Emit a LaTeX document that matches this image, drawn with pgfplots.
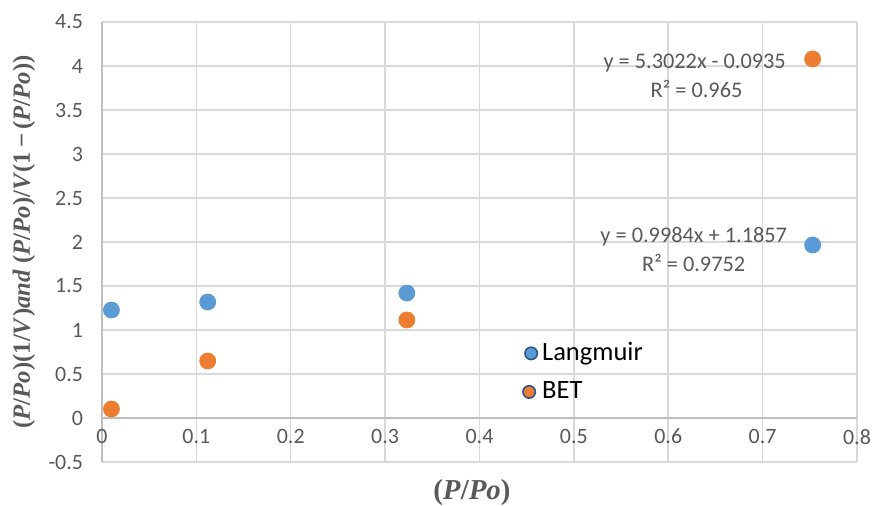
\documentclass[border=0pt]{standalone}
\usepackage{pgfplots}
\pgfplotsset{compat=1.18}
\usepackage{fontspec}
\setmainfont{Carlito}
\newfontfamily\lserif{Liberation Serif}
\definecolor{lblue}{RGB}{91,155,213}
\definecolor{lorange}{RGB}{237,125,49}
\definecolor{gridc}{RGB}{217,217,217}
\definecolor{axisc}{RGB}{191,191,191}
\definecolor{txtc}{RGB}{89,89,89}
\definecolor{edgec}{RGB}{49,84,140}
\newcommand{\vi}[1]{\textit{#1}}
\begin{document}
\begin{tikzpicture}
\begin{axis}[
  scale only axis,
  width=377.5bp, height=220bp,
  xmin=0, xmax=0.8, ymin=-0.5, ymax=4.5,
  xtick={0,0.1,...,0.8},
  ytick={-0.5,0,...,4.5},
  axis x line=middle, axis y line=left,
  hide obscured x ticks=false,
  axis line style={-, draw=axisc, line width=0.75bp},
  major tick length=0pt,
  grid=major, grid style={draw=gridc, line width=0.75bp},
  /pgf/number format/assume math mode=true,
  /pgf/number format/fixed,
  ticklabel style={font=\fontsize{11}{13}\selectfont, text=txtc},
  xticklabel style={anchor=north, yshift=-2bp},
  yticklabel style={anchor=east, xshift=-6bp},
  every axis y label/.style={at={(axis description cs:-0.1033,0.5)}, rotate=90, anchor=center,
    font=\fontsize{12.4}{14}\selectfont\lserif\bfseries, text=txtc},
  every axis x label/.style={at={(axis description cs:0.49,-0.0705)}, anchor=center,
    font=\fontsize{14.5}{16}\selectfont\lserif\bfseries, text=txtc},
  ylabel={(\vi{P}/\vi{Po})(1/\vi{V})\vi{and} (\vi{P}/\vi{Po})/\vi{V}(1\,−\,(\vi{P}/\vi{Po}))},
  xlabel={(\vi{P}/\vi{Po})},
  legend style={at={(axis description cs:0.556,0.281)}, anchor=north west,
    draw=none, fill=none, font=\fontsize{13.3}{15}\selectfont, text=black,
    row sep=5bp, inner sep=0pt},
  legend cell align=left,
  clip=false,
]
\addplot[only marks, mark=*, mark size=4bp, mark options={fill=lblue, draw=lblue},
  legend image code/.code={\draw[fill=lblue, draw=edgec, line width=0.8bp] (0.35em,0) circle (3.1bp);}]
  coordinates {(0.01,1.227)(0.112,1.318)(0.323,1.42)(0.753,1.966)};
\addlegendentry{Langmuir}
\addplot[only marks, mark=*, mark size=4bp, mark options={fill=lorange, draw=lorange},
  legend image code/.code={\draw[fill=lorange, draw=edgec, line width=0.8bp] (0.25em,0) circle (3.1bp);}]
  coordinates {(0.01,0.102)(0.112,0.648)(0.323,1.114)(0.753,4.08)};
\addlegendentry{BET}
\node[text=txtc, font=\fontsize{11.2}{13}\selectfont] at (axis cs:0.628,4.034) {y = 5.3022x - 0.0935};
\node[text=txtc, font=\fontsize{11.2}{13}\selectfont] at (axis cs:0.630,3.739) {R² = 0.965};
\node[text=txtc, font=\fontsize{11.2}{13}\selectfont] at (axis cs:0.627,2.057) {y = 0.9984x + 1.1857};
\node[text=txtc, font=\fontsize{11.2}{13}\selectfont] at (axis cs:0.627,1.761) {R² = 0.9752};
\end{axis}
\pgfresetboundingbox
\path[use as bounding box] (-51bp,-22bp) rectangle (386bp,231bp);
\end{tikzpicture}
\end{document}
